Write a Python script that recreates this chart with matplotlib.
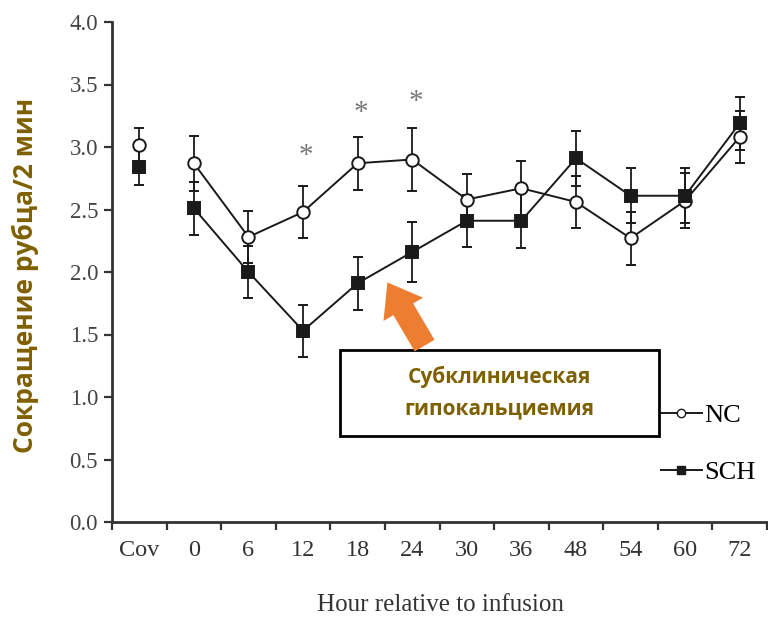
import matplotlib.pyplot as plt
from matplotlib.lines import Line2D
from matplotlib.patches import Rectangle, FancyArrowPatch

hours = ["Cov", "0", "6", "12", "18", "24", "30", "36", "48", "54", "60", "72"]
nc_mean = [3.02, 2.87, 2.28, 2.48, 2.87, 2.90, 2.58, 2.67, 2.56, 2.27, 2.57, 3.08]
nc_err = [0.13, 0.22, 0.21, 0.21, 0.21, 0.25, 0.20, 0.22, 0.21, 0.21, 0.22, 0.21]
sch_mean = [2.84, 2.51, 2.00, 1.53, 1.91, 2.16, 2.41, 2.41, 2.91, 2.61, 2.61, 3.19]
sch_err = [0.14, 0.21, 0.21, 0.21, 0.21, 0.24, 0.21, 0.22, 0.22, 0.22, 0.22, 0.21]
star_hours = [3, 4, 5]
star_y = [2.93, 3.27, 3.36]

ink = "#1a1a1a"
gold = "#7f6000"
serif = "Liberation Serif"

fig = plt.figure(figsize=(7.68, 6.24), dpi=100)
ax = fig.add_axes([112 / 768, 1 - 522 / 624, 655 / 768, 500 / 624])

x = list(range(len(hours)))

def draw_group(mean, err, marker, face):
    style = dict(color=ink, marker=marker, markersize=9, mfc=face, mec=ink, mew=1.4,
                 ecolor=ink, elinewidth=1.3, capsize=3.5, capthick=1.3)
    # covariate point stands alone, the time course is joined
    ax.errorbar(x[:1], mean[:1], yerr=err[:1], linestyle="none", **style)
    ax.errorbar(x[1:], mean[1:], yerr=err[1:], linewidth=1.4, **style)

draw_group(nc_mean, nc_err, "o", "white")
draw_group(sch_mean, sch_err, "s", ink)

for i, yy in zip(star_hours, star_y):
    ax.text(x[i] + 0.06, yy, "*", ha="center", va="center", fontsize=21,
            color="#777777", family=serif)

ax.set_xlim(-0.5, 11.5)
ax.set_ylim(0, 4)
ax.set_xticks(x)
ax.set_xticklabels(hours)
ax.set_xticks([i - 0.5 for i in range(13)], minor=True)
ax.set_yticks([i * 0.5 for i in range(9)])
ax.set_yticklabels([f"{i * 0.5:.1f}" for i in range(9)])
ax.tick_params(axis="x", which="major", length=0, pad=13)
ax.tick_params(axis="x", which="minor", length=6, width=1.6, color="#333333")
ax.tick_params(axis="y", length=6, width=1.6, color="#333333", pad=4)
for lab in ax.get_xticklabels():
    lab.set_family(serif)
    lab.set_fontsize(17.5)
    lab.set_color("#333333")
for lab in ax.get_yticklabels():
    lab.set_family(serif)
    lab.set_fontsize(16.5)
    lab.set_color("#444444")
for side in ("top", "right"):
    ax.spines[side].set_visible(False)
for side in ("left", "bottom"):
    ax.spines[side].set_linewidth(2)
    ax.spines[side].set_color("#333333")

fig.text(440 / 768, 1 - 605 / 624, "Hour relative to infusion", ha="center", va="center",
         family=serif, fontsize=18, color="#333333")
fig.text(25 / 768, 1 - 275 / 624, "Сокращение рубца/2 мин", rotation=90, ha="center",
         va="center", fontsize=19, fontweight="bold", color=gold, family="Open Sans")

handles = [
    Line2D([], [], color=ink, lw=1.4, marker="o", mfc="white", mec=ink, markersize=6),
    Line2D([], [], color=ink, lw=1.4, marker="s", mfc=ink, mec=ink, markersize=6),
]
leg = ax.legend(handles, ["NC", "SCH"], loc="upper left", frameon=False,
                bbox_to_anchor=(661 / 768, 1 - 404 / 624), bbox_transform=fig.transFigure,
                borderpad=0, borderaxespad=0, handlelength=1.55, handletextpad=0.08,
                labelspacing=1.27, prop={"family": serif, "size": 19})

# callout box and arrow
fig.patches.append(Rectangle((340 / 768, 1 - 436 / 624), 319 / 768, 86 / 624,
                             transform=fig.transFigure, facecolor="white",
                             edgecolor="black", linewidth=2))
fig.text(499 / 768, 1 - 393 / 624, "Субклиническая\nгипокальциемия", ha="center",
         va="center", fontsize=15, fontweight="bold", color=gold, family="Open Sans",
         linespacing=1.65)
fig.patches.append(FancyArrowPatch((426 / 768, 1 - 348 / 624), (386 / 768, 1 - 280 / 624),
                                   transform=fig.transFigure,
                                   arrowstyle="simple,head_width=2.2,head_length=1.5,tail_width=1.1",
                                   mutation_scale=15, color="#ed7d31", linewidth=0))

fig.savefig("out.png", dpi=100)
